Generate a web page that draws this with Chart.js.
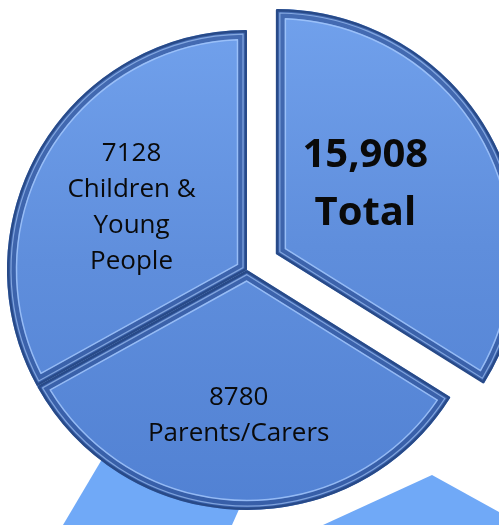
<!DOCTYPE html>
<html>
<head>
<meta charset="utf-8">
<script src="https://cdn.jsdelivr.net/npm/chart.js@4.4.1/dist/chart.umd.min.js"></script>
<style>
  html, body { margin: 0; padding: 0; background: #fff; }
</style>
</head>
<body>
<canvas id="myChart" width="499" height="525"></canvas>
<script>
// slice order is clockwise from 12 o'clock
var sliceLabels = ['Total', 'Parents/Carers', 'Children & Young People'];
var sliceCounts = [15908, 8780, 7128];
// the picture draws the three slices as near-equal thirds (degrees)
var sliceAngles = [122, 119, 119];
var labelLines = [['15,908', 'Total'], ['8780', 'Parents/Carers'], ['7128', 'Children &', 'Young', 'People']];

function wedge(ctx, cx, cy, R, a0, a1, inset) {
    var half = (a1 - a0) / 2;
    var r = R - inset;
    var d = Math.asin(Math.min(1, inset / r));
    var m = (a0 + a1) / 2;
    var k = inset / Math.sin(half);
    ctx.beginPath();
    ctx.moveTo(cx + Math.cos(m) * k, cy + Math.sin(m) * k);
    ctx.arc(cx, cy, r, a0 + d, a1 - d);
    ctx.closePath();
}

// where Chart.js actually puts an arc once its offset is applied
function arcGeom(el) {
    var off = (el.options.offset || 0) / 4;
    var m = (el.startAngle + el.endAngle) / 2;
    var fix = 1 - Math.sin(Math.min(Math.PI, el.circumference || 0));
    return {
        x: el.x + Math.cos(m) * off,
        y: el.y + Math.sin(m) * off,
        r: el.outerRadius + off * fix,
        a0: el.startAngle,
        a1: el.endAngle,
        m: m
    };
}

var backdrop = {
    id: 'backdrop',
    beforeDatasetsDraw: function (chart) {
        var ctx = chart.ctx;
        ctx.save();
        ctx.fillStyle = '#70a9f7';
        ctx.beginPath();
        ctx.moveTo(63, 525); ctx.lineTo(140, 395); ctx.lineTo(290, 395); ctx.lineTo(232, 525);
        ctx.closePath(); ctx.fill();
        ctx.beginPath();
        ctx.moveTo(323, 525); ctx.lineTo(432, 475); ctx.lineTo(499, 512); ctx.lineTo(499, 525);
        ctx.closePath(); ctx.fill();
        ctx.restore();
    }
};

var bevel = {
    id: 'bevel',
    afterDatasetsDraw: function (chart) {
        var ctx = chart.ctx;
        var arcs = chart.getDatasetMeta(0).data;
        ctx.save();
        ctx.lineJoin = 'round';
        arcs.forEach(function (el) {
            var g = arcGeom(el);
            wedge(ctx, g.x, g.y, g.r, g.a0, g.a1, 5);
            ctx.lineWidth = 8;
            ctx.strokeStyle = 'rgba(38,72,140,0.6)';
            ctx.stroke();
            wedge(ctx, g.x, g.y, g.r, g.a0, g.a1, 1.2);
            ctx.lineWidth = 2.4;
            ctx.strokeStyle = '#284a88';
            ctx.stroke();
            wedge(ctx, g.x, g.y, g.r, g.a0, g.a1, 4);
            ctx.lineWidth = 1.2;
            ctx.strokeStyle = 'rgba(175,208,255,0.6)';
            ctx.stroke();
            wedge(ctx, g.x, g.y, g.r, g.a0, g.a1, 9.5);
            ctx.lineWidth = 1.5;
            ctx.strokeStyle = 'rgba(165,200,252,0.8)';
            ctx.stroke();
        });
        ctx.restore();
    }
};

var sliceText = {
    id: 'sliceText',
    afterDatasetsDraw: function (chart, args, opts) {
        var ctx = chart.ctx;
        var arcs = chart.getDatasetMeta(0).data;
        ctx.save();
        ctx.fillStyle = '#0a0a0a';
        ctx.textAlign = 'center';
        ctx.textBaseline = 'alphabetic';
        arcs.forEach(function (el, i) {
            var g = arcGeom(el);
            var p = opts.place[i];
            var a = g.m + p.turn * Math.PI / 180;
            var cx = g.x + Math.cos(a) * g.r * p.frac;
            var cy = g.y + Math.sin(a) * g.r * p.frac;
            var bold = i === 0;
            var size = bold ? 40 : 26;
            var lh = bold ? 58 : 36;
            ctx.font = (bold ? 'bold ' : '500 ') + size + 'px "Open Sans"';
            var lines = labelLines[i];
            lines.forEach(function (t, j) {
                var y = cy + (j - (lines.length - 1) / 2) * lh + size * 0.714 / 2;
                ctx.fillText(t, cx, y);
            });
        });
        ctx.restore();
    }
};

var ctx = document.getElementById('myChart').getContext('2d');
var chart = new Chart(ctx, {
    type: 'pie',
    data: {
        labels: sliceLabels,
        datasets: [{
            data: sliceAngles,
            counts: sliceCounts,
            backgroundColor: function (c) {
                var gr = c.chart.ctx.createLinearGradient(0, 10, 0, 515);
                gr.addColorStop(0, '#72a2ed');
                gr.addColorStop(0.5, '#5f8edc');
                gr.addColorStop(1, '#5181d3');
                return gr;
            },
            borderWidth: 0,
            offset: [132, 0, 0]
        }]
    },
    options: {
        responsive: false,
        animation: false,
        events: [],
        radius: 240,
        layout: { padding: { top: 15, right: 5, bottom: 0, left: 0 } },
        plugins: {
            legend: { display: false },
            tooltip: { enabled: false },
            sliceText: {
                place: [
                    { turn: -10, frac: 0.47 },
                    { turn: 1.8, frac: 0.6 },
                    { turn: -1.5, frac: 0.55 }
                ]
            }
        }
    },
    plugins: [backdrop, bevel, sliceText]
});
</script>
</body>
</html>
